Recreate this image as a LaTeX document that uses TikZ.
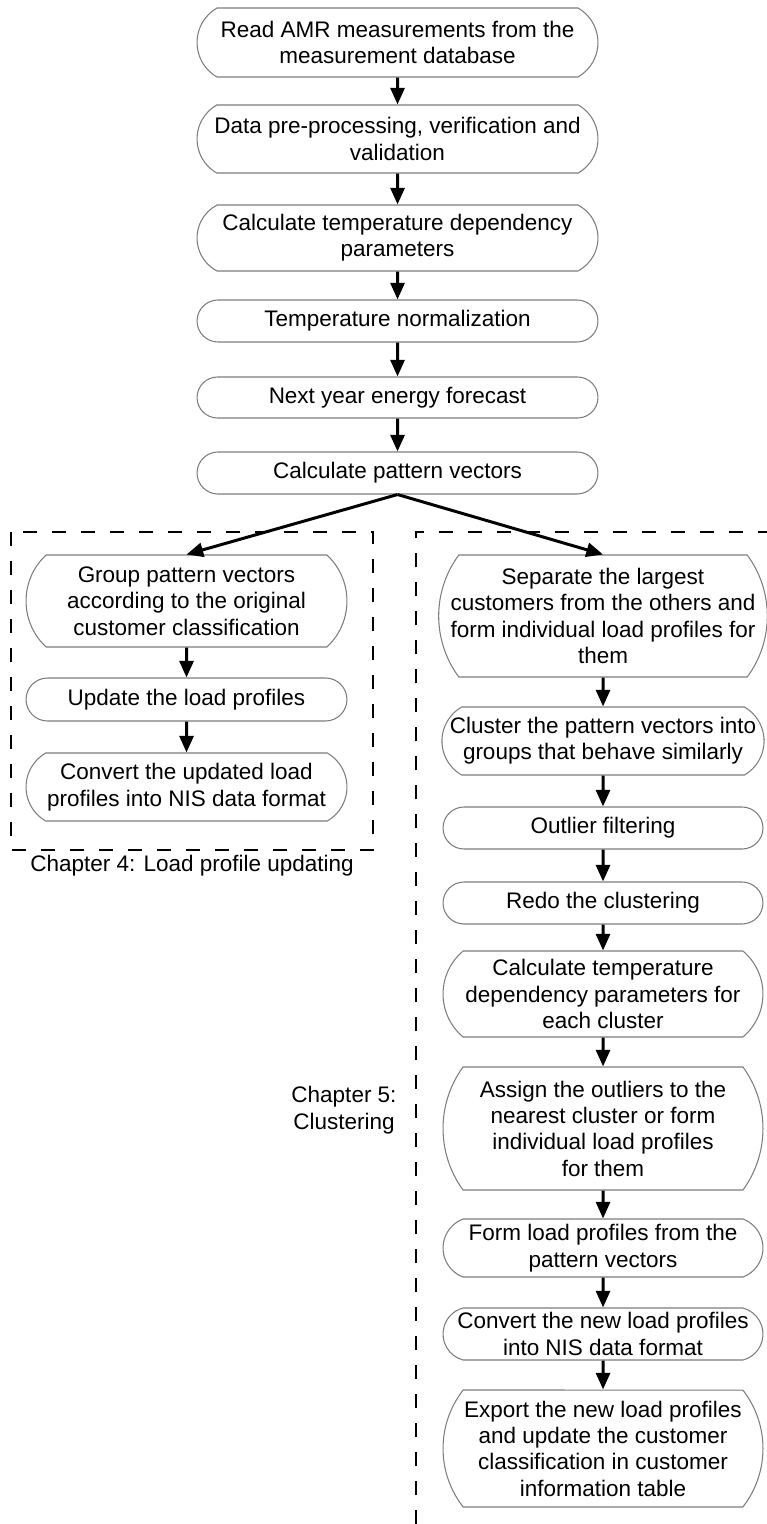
\documentclass[tikz,border=0pt]{standalone}
\usepackage{fontspec}
\setmainfont{Liberation Sans}
\usetikzlibrary{arrows.meta, shapes.misc}
\definecolor{boxgray}{RGB}{125,125,125}
\newcommand{\flowfont}{\fontsize{12.8}{15}\selectfont}

\begin{document}
\begin{tikzpicture}[x=0.02cm, y=-0.02cm,
    proc/.style={rounded rectangle, rounded rectangle arc length=#1,
                 draw=boxgray, line width=0.6pt, align=center,
                 inner sep=0pt, font=\flowfont},
    proc/.default=180,
    arr/.style={line width=1.7pt, -{Triangle[length=9.5pt,width=8pt]}},
    frame/.style={dash pattern=on 8pt off 8.5pt, line width=0.7pt}]
  \useasboundingbox (0,0) rectangle (767,1524);

  % common part
  \node[proc=120, minimum width=8.02cm, minimum height=1.38cm] (read) at (397.5,42.5)
    {Read AMR measurements from the\\measurement database};
  \node[proc=120, minimum width=8.02cm, minimum height=1.36cm] (prep) at (397.5,139)
    {Data pre-processing, verification and\\validation};
  \node[proc=125, minimum width=8.02cm, minimum height=1.32cm] (tdep) at (397.5,238)
    {Calculate temperature dependency\\parameters};
  \node[proc, minimum width=8.02cm, minimum height=0.84cm] (norm) at (397.5,321)
    {Temperature normalization};
  \node[proc, minimum width=8.02cm, minimum height=0.82cm] (fcst) at (397.5,397.5)
    {Next year energy forecast};
  \node[proc, minimum width=8.02cm, minimum height=0.84cm] (pvec) at (397.5,473)
    {Calculate pattern vectors};

  % chapter 4
  \draw[frame] (11,532) rectangle (373,850);
  \node[proc=94, minimum width=6.42cm, minimum height=1.84cm] (group) at (186.5,601)
    {Group pattern vectors\\according to the original\\customer classification};
  \node[proc, minimum width=6.42cm, minimum height=0.86cm] (upd) at (186.5,699.5)
    {Update the load profiles};
  \node[proc=120, minimum width=6.42cm, minimum height=1.36cm] (conv) at (186.5,787)
    {Convert the updated load\\profiles into NIS data format};
  \node[font=\flowfont] (ch4) at (192,866) {Chapter 4: Load profile updating};

  % chapter 5
  \draw[frame] (416,1524) -- (416,532) -- (767,532);
  \node[proc=73, minimum width=6.4cm, minimum height=2.44cm] (sep) at (603,616)
    {Separate the largest\\customers from the others and\\form individual load profiles for\\them};
  \node[proc=120, minimum width=6.4cm, minimum height=1.36cm] (clus) at (603,741)
    {Cluster the pattern vectors into\\groups that behave similarly};
  \node[proc, minimum width=6.4cm, minimum height=0.84cm] (outl) at (603,828)
    {Outlier filtering};
  \node[proc, minimum width=6.4cm, minimum height=0.84cm] (redo) at (603,903)
    {Redo the clustering};
  \node[proc=100, minimum width=6.4cm, minimum height=1.72cm] (ctdep) at (603,994)
    {Calculate temperature\\dependency parameters for\\each cluster};
  \node[proc=72, minimum width=6.4cm, minimum height=2.46cm] (asgn) at (603,1128.5)
    {Assign the outliers to the\\nearest cluster or form\\individual load profiles\\for them};
  \node[proc=138, minimum width=6.4cm, minimum height=1.16cm] (form) at (603,1248)
    {Form load profiles from the\\pattern vectors};
  \node[proc=150, minimum width=6.4cm, minimum height=1.04cm] (cnew) at (603,1334)
    {Convert the new load profiles\\into NIS data format};
  \node[proc=76, minimum width=6.4cm, minimum height=2.34cm] (expo) at (603,1448.5)
    {Export the new load profiles\\and update the customer\\classification in customer\\information table};
  \node[font=\flowfont, align=center] (ch5) at (344,1110) {Chapter 5:\\Clustering};

  % arrows
  \draw[arr] (read) -- (prep);
  \draw[arr] (prep) -- (tdep);
  \draw[arr] (tdep) -- (norm);
  \draw[arr] (norm) -- (fcst);
  \draw[arr] (fcst) -- (pvec);
  \draw[arr] (pvec.south) -- (group.north);
  \draw[arr] (pvec.south) -- (sep.north);
  \draw[arr] (group) -- (upd);
  \draw[arr] (upd) -- (conv);
  \draw[arr] (sep) -- (clus);
  \draw[arr] (clus) -- (outl);
  \draw[arr] (outl) -- (redo);
  \draw[arr] (redo) -- (ctdep);
  \draw[arr] (ctdep) -- (asgn);
  \draw[arr] (asgn) -- (form);
  \draw[arr] (form) -- (cnew);
  \draw[arr] (cnew) -- (expo);
\end{tikzpicture}
\end{document}
